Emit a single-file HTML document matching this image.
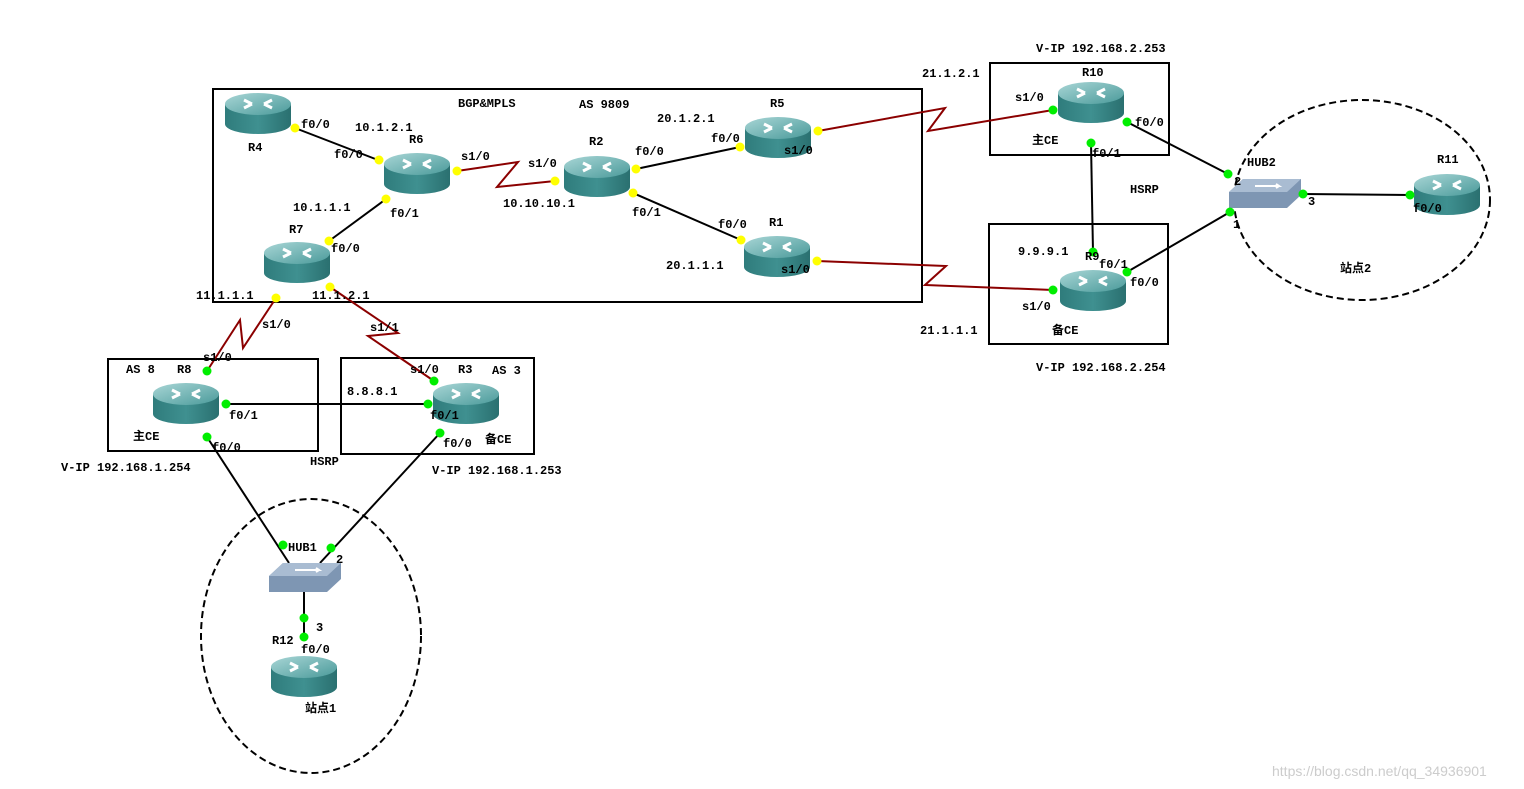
<!DOCTYPE html>
<html><head><meta charset="utf-8"><style>
body{margin:0;background:#fff}
svg{display:block}
text{font-family:"Liberation Mono","Noto Sans CJK SC",monospace;font-weight:bold;font-size:12px;fill:#000}
</style></head><body>
<svg width="1524" height="789" viewBox="0 0 1524 789" xmlns="http://www.w3.org/2000/svg">
<defs>
<linearGradient id="rt" x1="0" y1="0" x2="1" y2="0"><stop offset="0" stop-color="#2f7c7c"/><stop offset=".5" stop-color="#3f9090"/><stop offset="1" stop-color="#2a7070"/></linearGradient>
<linearGradient id="tp" x1="0" y1="0" x2="1" y2="1"><stop offset="0" stop-color="#a9d6d6"/><stop offset="1" stop-color="#4a9a9a"/></linearGradient>
<g id="r">
<path d="M-33,-10 v20 a33,10 0 0 0 66,0 v-20 z" fill="url(#rt)"/>
<ellipse cx="0" cy="-10" rx="33" ry="11" fill="url(#tp)"/>
<path d="M-14,-14 l8,4 M14,-14 l-8,4 M-14,-6 l8,-4 M14,-6 l-8,-4" stroke="#fff" stroke-width="3"/>
</g>
<g id="h">
<path d="M-36,-2 l14,-13 h58 v16 l-14,13 h-58z" fill="#7e96b3"/>
<path d="M-36,-2 l14,-13 h58 l-14,13z" fill="#a9bcd2"/>
<path d="M-10,-8 h24 l-3,-2 m3,2 l-3,2" stroke="#fff" stroke-width="2" fill="none"/>
</g>
</defs>
<g fill="none" stroke="#000" stroke-width="2">
<rect x="213" y="89" width="709" height="213"/>
<rect x="990" y="63" width="179" height="92"/>
<rect x="989" y="224" width="179" height="120"/>
<rect x="108" y="359" width="210" height="92"/>
<rect x="341" y="358" width="193" height="96"/>
<ellipse cx="311" cy="636" rx="110" ry="137" stroke-dasharray="7,4"/>
<ellipse cx="1362" cy="200" rx="128" ry="100" stroke-dasharray="7,4"/>
</g>
<g stroke="#000" stroke-width="2">
<line x1="295" y1="128" x2="378" y2="160"/>
<line x1="386" y1="199" x2="329" y2="241"/>
<line x1="636" y1="169" x2="740" y2="147"/>
<line x1="633" y1="193" x2="741" y2="240"/>
<line x1="1127" y1="122" x2="1228" y2="174"/>
<line x1="1091" y1="143" x2="1093" y2="252"/>
<line x1="1127" y1="272" x2="1230" y2="212"/>
<line x1="1303" y1="194" x2="1410" y2="195"/>
<line x1="226" y1="404" x2="428" y2="404"/>
<line x1="207" y1="437" x2="289" y2="563"/>
<line x1="440" y1="433" x2="320" y2="563"/>
<line x1="304" y1="592" x2="304" y2="637"/>
</g>
<g stroke="#8b0000" stroke-width="2" fill="none">
<polyline points="457,171 518,162 497,187 555,181"/>
<polyline points="818,131 945,108 928,131 1053,110"/>
<polyline points="817,261 946,266 925,285 1053,290"/>
<polyline points="276,298 243,348 240,320 207,371"/>
<polyline points="330,287 398,333 368,336 434,381"/>
</g>
<use href="#r" x="258" y="114"/><use href="#r" x="417" y="174"/><use href="#r" x="597" y="177"/>
<use href="#r" x="778" y="138"/><use href="#r" x="777" y="257"/><use href="#r" x="297" y="263"/>
<use href="#r" x="186" y="404"/><use href="#r" x="466" y="404"/><use href="#r" x="1091" y="103"/>
<use href="#r" x="1093" y="291"/><use href="#r" x="1447" y="195"/><use href="#r" x="304" y="677"/>
<use href="#h" x="1265" y="194"/><use href="#h" x="305" y="578"/>
<g fill="#ffff00">
<circle cx="295" cy="128" r="4.5"/><circle cx="379" cy="160" r="4.5"/><circle cx="457" cy="171" r="4.5"/>
<circle cx="386" cy="199" r="4.5"/><circle cx="329" cy="241" r="4.5"/><circle cx="555" cy="181" r="4.5"/>
<circle cx="636" cy="169" r="4.5"/><circle cx="633" cy="193" r="4.5"/><circle cx="740" cy="147" r="4.5"/>
<circle cx="741" cy="240" r="4.5"/><circle cx="818" cy="131" r="4.5"/><circle cx="817" cy="261" r="4.5"/>
<circle cx="276" cy="298" r="4.5"/><circle cx="330" cy="287" r="4.5"/>
</g>
<g fill="#00ee00">
<circle cx="1053" cy="110" r="4.5"/><circle cx="1127" cy="122" r="4.5"/><circle cx="1091" cy="143" r="4.5"/>
<circle cx="1093" cy="252" r="4.5"/><circle cx="1127" cy="272" r="4.5"/><circle cx="1053" cy="290" r="4.5"/>
<circle cx="1228" cy="174" r="4.5"/><circle cx="1230" cy="212" r="4.5"/><circle cx="1303" cy="194" r="4.5"/>
<circle cx="1410" cy="195" r="4.5"/><circle cx="207" cy="371" r="4.5"/><circle cx="226" cy="404" r="4.5"/>
<circle cx="207" cy="437" r="4.5"/><circle cx="434" cy="381" r="4.5"/><circle cx="428" cy="404" r="4.5"/>
<circle cx="440" cy="433" r="4.5"/><circle cx="283" cy="545" r="4.5"/><circle cx="331" cy="548" r="4.5"/>
<circle cx="304" cy="618" r="4.5"/><circle cx="304" cy="637" r="4.5"/>
</g>
<text x="458" y="107">BGP&amp;MPLS</text><text x="579" y="108">AS 9809</text>
<text x="248" y="151">R4</text><text x="301" y="128">f0/0</text><text x="355" y="131">10.1.2.1</text>
<text x="409" y="143">R6</text><text x="334" y="158">f0/0</text><text x="461" y="160">s1/0</text>
<text x="293" y="211">10.1.1.1</text><text x="390" y="217">f0/1</text><text x="289" y="233">R7</text>
<text x="331" y="252">f0/0</text><text x="528" y="167">s1/0</text><text x="589" y="145">R2</text>
<text x="635" y="155">f0/0</text><text x="503" y="207">10.10.10.1</text><text x="632" y="216">f0/1</text>
<text x="657" y="122">20.1.2.1</text><text x="770" y="107">R5</text><text x="711" y="142">f0/0</text>
<text x="784" y="154">s1/0</text><text x="718" y="228">f0/0</text><text x="769" y="226">R1</text>
<text x="666" y="269">20.1.1.1</text><text x="781" y="273">s1/0</text>
<text x="196" y="299">11.1.1.1</text><text x="312" y="299">11.1.2.1</text>
<text x="262" y="328">s1/0</text><text x="370" y="331">s1/1</text>
<text x="126" y="373">AS 8</text><text x="177" y="373">R8</text><text x="203" y="361">s1/0</text>
<text x="229" y="419">f0/1</text><text x="133" y="440">主CE</text><text x="212" y="451">f0/0</text>
<text x="410" y="373">s1/0</text><text x="458" y="373">R3</text><text x="492" y="374">AS 3</text>
<text x="347" y="395">8.8.8.1</text><text x="430" y="419">f0/1</text><text x="443" y="447">f0/0</text>
<text x="485" y="443">备CE</text>
<text x="61" y="471">V-IP 192.168.1.254</text><text x="310" y="465">HSRP</text>
<text x="432" y="474">V-IP 192.168.1.253</text>
<text x="288" y="551">HUB1</text><text x="336" y="563">2</text><text x="316" y="631">3</text>
<text x="272" y="644">R12</text><text x="301" y="653">f0/0</text><text x="305" y="712">站点1</text>
<text x="1036" y="52">V-IP 192.168.2.253</text><text x="922" y="77">21.1.2.1</text>
<text x="1082" y="76">R10</text><text x="1015" y="101">s1/0</text><text x="1135" y="126">f0/0</text>
<text x="1032" y="144">主CE</text><text x="1092" y="157">f0/1</text><text x="1130" y="193">HSRP</text>
<text x="1247" y="166">HUB2</text><text x="1234" y="185">2</text><text x="1308" y="205">3</text><text x="1233" y="228">1</text>
<text x="1437" y="163">R11</text><text x="1413" y="212">f0/0</text><text x="1340" y="272">站点2</text>
<text x="1018" y="255">9.9.9.1</text><text x="1085" y="260">R9</text><text x="1099" y="268">f0/1</text>
<text x="1130" y="286">f0/0</text><text x="1022" y="310">s1/0</text><text x="1052" y="334">备CE</text>
<text x="920" y="334">21.1.1.1</text><text x="1036" y="371">V-IP 192.168.2.254</text>
<text x="1272" y="776" style="font-family:'Liberation Sans',sans-serif;font-weight:normal;font-size:14px;fill:#ccc">https://blog.csdn.net/qq_34936901</text>
</svg>
</body></html>
